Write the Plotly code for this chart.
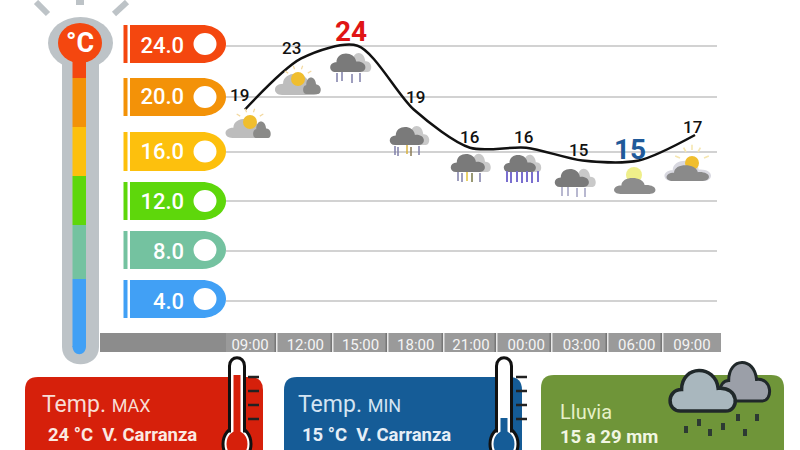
"""Weather forecast panel: temperature curve with thermometer scale and summary cards."""
import plotly.graph_objects as go

W, H = 800, 450

# data
hours = ["09:00", "12:00", "15:00", "18:00", "21:00", "00:00", "03:00", "06:00", "09:00"]
temps = [19, 23, 24, 19, 16, 16, 15, 15, 17]
scale_labels = ["24.0", "20.0", "16.0", "12.0", "8.0", "4.0"]
# the grid in the source is not perfectly even, so these are as read
scale_values = [24, 20, 15.7, 11.8, 7.9, 4]
scale_colors = ["#F4470F", "#F39208", "#FDC00D", "#5ED70B", "#74C2A0", "#41A0F5"]

FONT = "Roboto"
shapes = []
annotations = []


def px(x):
    return x / W


def py(y):
    return 1 - y / H


def add_rect(x0, y0, x1, y1, color, layer="below"):
    shapes.append(dict(type="rect", xref="paper", yref="paper", x0=px(x0), x1=px(x1),
                       y0=py(y0), y1=py(y1), fillcolor=color, line_width=0, layer=layer))


def add_circle(cx, cy, rx, ry, color, layer="below", line=None, line_w=0):
    shapes.append(dict(type="circle", xref="paper", yref="paper", x0=px(cx - rx), x1=px(cx + rx),
                       y0=py(cy + ry), y1=py(cy - ry), fillcolor=color,
                       line=dict(color=line or color, width=line_w), layer=layer))


def add_line(x0, y0, x1, y1, color, width, layer="below"):
    shapes.append(dict(type="line", xref="paper", yref="paper", x0=px(x0), x1=px(x1),
                       y0=py(y0), y1=py(y1), line=dict(color=color, width=width), layer=layer))


def add_path(points, color, layer="below", line=None, line_w=0):
    """points is a list of (command, x, y, ...) tuples in pixel coordinates"""
    parts = []
    for p in points:
        coords = p[1:]
        xy = [f"{px(coords[i]):.5f},{py(coords[i + 1]):.5f}" for i in range(0, len(coords), 2)]
        parts.append(p[0] + " " + " ".join(xy))
    shapes.append(dict(type="path", xref="paper", yref="paper", path=" ".join(parts) + " Z",
                       fillcolor=color, line=dict(color=line or color, width=line_w), layer=layer))


def add_text(x, y, text, size, color, bold=False, anchor="left"):
    annotations.append(dict(xref="paper", yref="paper", x=px(x), y=py(y), text=text, showarrow=False,
                            xanchor=anchor, yanchor="middle", align="left",
                            font=dict(family=FONT, size=size, color=color,
                                      weight=700 if bold else 400)))


def round_card(x0, y0, x1, y1, r, color):
    add_path([("M", x0, y1), ("L", x0, y0 + r), ("Q", x0, y0, x0 + r, y0), ("L", x1 - r, y0),
              ("Q", x1, y0, x1, y0 + r), ("L", x1, y1)], color)


def cloud(cx, cy, w, color, tall=0.85, layer="above", line=None, line_w=0):
    """Simple cloud: cx,cy is the centre of its flat base line."""
    u = w / 10
    t = u * tall
    add_path([("M", cx - 3.6 * u, cy),
              ("C", cx - 5.8 * u, cy, cx - 5.8 * u, cy - 3.4 * t, cx - 3.4 * u, cy - 3.4 * t),
              ("C", cx - 3.4 * u, cy - 7.4 * t, cx + 2 * u, cy - 7.4 * t, cx + 2.4 * u, cy - 3.6 * t),
              ("C", cx + 5.8 * u, cy - 3.9 * t, cx + 5.8 * u, cy, cx + 3.6 * u, cy)],
             color, layer=layer, line=line, line_w=line_w)


def rain(drops, color, length=9, width=1.5):
    for x, y in drops:
        add_line(x, y, x, y + length, color, width, layer="above")


def sun(cx, cy, r, color="#F0BE2E", rays=True):
    if rays:
        for dx, dy in [(-1, -0.6), (-0.35, -1), (0.35, -1), (1, -0.6)]:
            add_line(cx + dx * r * 1.4, cy + dy * r * 1.4, cx + dx * r * 1.9, cy + dy * r * 1.9,
                     "#F3D9A0", 1.2, layer="above")
    add_circle(cx, cy, r, r, color, layer="above")


# left thermometer
for x0, y0, x1, y1, w in [(36, 2, 48, 14, 6), (127, 2, 114, 14, 6), (80, 0, 80, 5, 8)]:
    add_line(x0, y0, x1, y1, "#BDC3C7", w)
add_circle(80.5, 43, 32.5, 26, "#BDC3C7")
add_path([("M", 62, 60), ("L", 62, 347), ("C", 62, 370, 99, 370, 99, 347), ("L", 99, 60)], "#BDC3C7")
add_circle(80, 43, 22, 20, scale_colors[0])
segments = [60, 78, 127, 176, 225, 279]
seg_colors = [scale_colors[0], *scale_colors[1:]]
for i, c in enumerate(seg_colors):
    y_end = segments[i + 1] if i + 1 < len(segments) else 347
    add_rect(72.5, segments[i], 86, y_end, c)
add_path([("M", 72.5, 346), ("C", 72.5, 357, 86, 357, 86, 346)], scale_colors[-1])
add_text(80, 43, "°C", 27, "#FFFFFF", bold=True, anchor="center")

# colour pills for the scale
pill_tops = [25, 78, 132, 182, 231, 280]
pill_bottoms = [63, 116, 171, 220, 269, 318]
for top, bot, c in zip(pill_tops, pill_bottoms, scale_colors):
    mid = (top + bot) / 2
    add_rect(123.5, top, 127.5, bot, c)
    add_path([("M", 130, top), ("L", 202, top), ("C", 216, top, 226, mid - 10, 226, mid),
              ("C", 226, mid + 10, 216, bot, 202, bot), ("L", 130, bot)], c)
    add_circle(205, mid, 11.5, 11, "#FFFFFF")

# time band
add_rect(100, 333, 721, 352, "#8C8C8C")
add_rect(226, 333, 721, 352, "#9A9A9A")
for x in [276, 332, 387, 443, 496, 551, 607, 662]:
    add_rect(x - 1.5, 333, x, 352, "#777777")
    add_rect(x, 333, x + 1.5, 352, "#E8E8E8")

# weather icons along the curve
LIGHT, DARK = "#C9C9C9", "#7A7A7A"
RAIN = "#7E7EA8"

cloud(248, 138, 43, "#BDBDBD", tall=0.7)
sun(250, 122, 7)
cloud(262, 138, 17, "#8A8A88", tall=1.5)

cloud(298, 95, 44, "#BDBDBD", tall=0.75)
sun(298, 79, 7)
cloud(312, 94, 17, "#8A8A88", tall=1.5)

cloud(360, 72, 22, LIGHT, tall=1.35)
cloud(348, 72, 34, DARK)
rain([(337, 73), (342, 72), (352, 74), (360, 73)], RAIN)

cloud(418, 145, 22, LIGHT, tall=1.35)
cloud(407, 145, 33, DARK)
rain([(395, 146), (398, 147), (419, 146)], RAIN)
rain([(407, 145)], "#D9B23E")
rain([(411, 147)], "#8A7A55")

cloud(480, 172, 21, LIGHT, tall=1.35)
cloud(468, 172, 33, DARK)
rain([(458, 172), (462, 173), (480, 173)], RAIN)
rain([(467, 172)], "#E2C23A")
rain([(472, 173)], "#777744")

cloud(531, 172, 20, LIGHT, tall=1.35)
cloud(520, 172, 31, DARK)
rain([(507, 171), (511, 172), (517, 171), (522, 172), (527, 171), (532, 172), (538, 171)], "#7A6FCF", 11, 2)

cloud(585, 187, 21, LIGHT, tall=1.35)
cloud(572, 187, 33, DARK)
rain([(562, 187), (568, 187), (577, 188), (585, 188)], "#A0A0C0")

sun(634, 175, 8, "#EFEF8A", rays=False)
cloud(635, 194, 40, "#8C8C8C", tall=0.62)

for dx, dy in [(-12, -5), (-6, -11), (0, -13), (6, -11), (12, -5)]:
    add_line(692 + dx, 163 + dy, 692 + dx * 1.4, 163 + dy * 1.4, "#F5E6B0", 1.6, layer="above")
cloud(688, 181, 45, "#D8D8E0", tall=0.7)
sun(692, 163, 7, rays=False)
cloud(688, 181, 41, "#8A8A8A", tall=0.6)

# summary cards
round_card(25, 377, 263, 450, 13, "#D6200B")
round_card(284, 377, 522, 450, 13, "#155C97")
round_card(541, 375, 784, 450, 13, "#6F9539")


def small_thermo(cx, top, level, color, bulb_y, ticks_x):
    add_circle(cx, bulb_y, 14, 17, "#FFFFFF", line="#111111", line_w=3)
    add_path([("M", cx - 7.5, top + 8), ("C", cx - 7.5, top - 3, cx + 7.5, top - 3, cx + 7.5, top + 8),
              ("L", cx + 7.5, bulb_y - 13), ("L", cx - 7.5, bulb_y - 13)], "#FFFFFF", line="#111111", line_w=3)
    add_rect(cx - 6, bulb_y - 17, cx + 6, bulb_y - 9, "#FFFFFF")
    add_circle(cx, bulb_y, 10.5, 13, color)
    add_rect(cx - 3.5, level, cx + 3.5, bulb_y - 9, color)
    for y in [377, 391, 405, 419]:
        add_line(ticks_x, y, ticks_x + 11, y, "#222222", 2.5)


small_thermo(237, 358, 375, "#D6200B", 444, 248)
small_thermo(504, 358, 418, "#155C97", 444, 516)

add_text(40, 404, 'Temp. <span style="font-size:18px">MAX</span>', 23, "#F8DDD4")
add_text(46, 435, "24 °C\u00a0\u00a0V. Carranza", 18.5, "#FBE9E2", bold=True)
add_text(296, 404, 'Temp. <span style="font-size:18px">MIN</span>', 23, "#D4E4F2")
add_text(300, 435, "15 °C\u00a0\u00a0V. Carranza", 18.5, "#E6EFF7", bold=True)
add_text(558, 412, "Lluvia", 20, "#E6F0C8")
add_text(558, 437, "15 a 29 mm", 18.5, "#F1F6E2", bold=True)

# rain icon on the green card
cloud(745, 401, 48, "#9B9FA8", tall=1.25, layer="below", line="#20282A", line_w=3)
cloud(703, 411, 63, "#A9B7BE", tall=1.0, layer="below", line="#20282A", line_w=3.5)
for x, y in [(686, 426), (699, 419), (710, 429), (723, 423), (738, 414), (757, 414), (745, 429)]:
    add_line(x, y, x, y + 7, "#2D3A33", 4)

# temperature labels, offsets in pixels from the curve
label_dx = [-6, -10, -7, 2, -1, -3, -4, -9, -3]
label_dy = [15, 10, 14, 13, 11, 11, 11, 11, 8]
label_size = [17, 17, 28, 17, 17, 17, 17, 28, 17]
label_color = ["#111111", "#111111", "#E01515", "#111111", "#111111", "#111111", "#111111", "#1F5A9A", "#111111"]
for i, t in enumerate(temps):
    annotations.append(dict(x=i, y=t, xref="x", yref="y", text=str(t), showarrow=False,
                            xshift=label_dx[i], yshift=label_dy[i],
                            font=dict(family=FONT, size=label_size[i], color=label_color[i],
                                      weight=700 if label_size[i] > 20 else 500)))

fig = go.Figure()
fig.add_trace(go.Scatter(x=list(range(len(temps))), y=temps, mode="lines", hoverinfo="skip",
                         line=dict(color="#111111", width=2.5, shape="spline", smoothing=0.8)))

fig.update_layout(
    width=W, height=H, autosize=False, showlegend=False,
    margin=dict(l=0, r=0, t=0, b=0),
    paper_bgcolor="white", plot_bgcolor="rgba(0,0,0,0)",
    shapes=shapes, annotations=annotations,
    xaxis=dict(domain=[px(226), px(717)], range=[-0.338, 8.391], showgrid=False, zeroline=False,
               tickvals=[0.09 + i * 0.982 for i in range(len(hours))], ticktext=hours,
               ticks="", ticklabelstandoff=1, tickfont=dict(family=FONT, size=15, color="#F4F4F4")),
    yaxis=dict(domain=[py(333), py(10)], range=[1.48, 26.8], zeroline=False,
               tickvals=scale_values, ticktext=scale_labels, gridcolor="#D2D2D2", gridwidth=2,
               ticks="", ticklabelstandoff=41,
               tickfont=dict(family=FONT, size=22, color="#FFFFFF", weight=500)),
)

fig.write_html("out.html", config={"displayModeBar": False},
               post_script="document.body.style.margin = '0';")
